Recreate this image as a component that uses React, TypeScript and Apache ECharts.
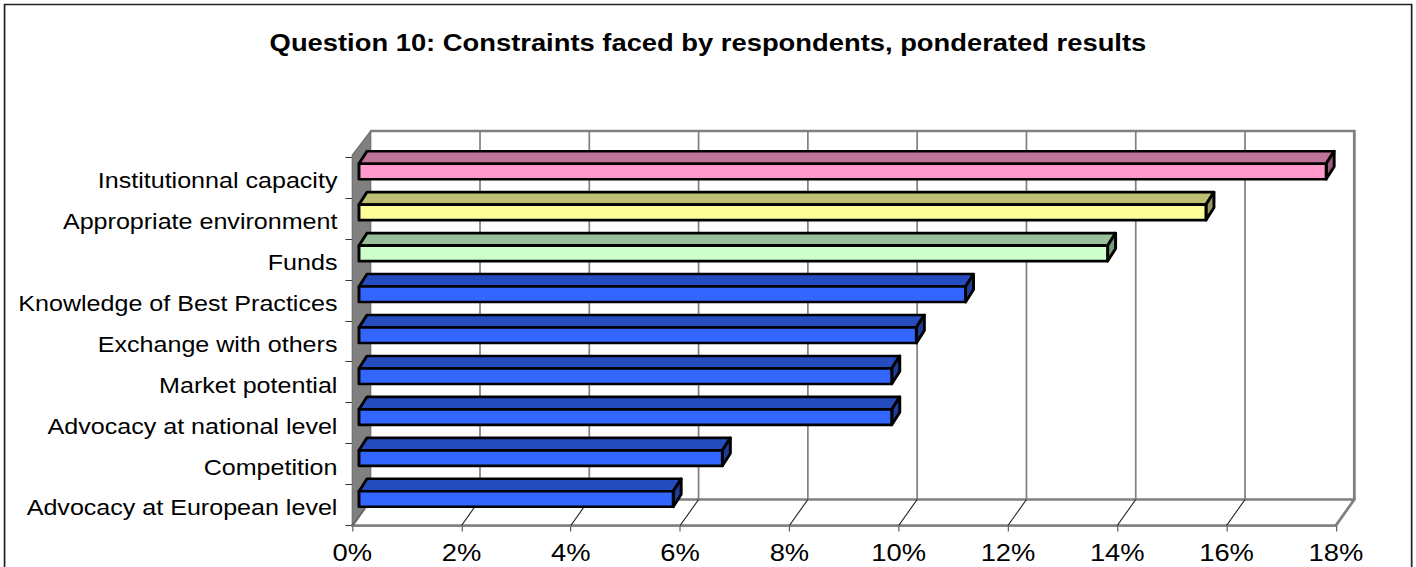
import React, { useEffect, useRef } from "react";
import * as echarts from "echarts";

// Survey categories, top to bottom
const categories = [
  "Institutionnal capacity",
  "Appropriate environment",
  "Funds",
  "Knowledge of Best Practices",
  "Exchange with others",
  "Market potential",
  "Advocacy at national level",
  "Competition",
  "Advocacy at European level",
];

// Ponderated share of answers, in percent
const values = [17.7, 15.5, 13.7, 11.1, 10.2, 9.75, 9.75, 6.65, 5.75];

// Front face colour of each bar
const barColors = [
  "#FF99CC",
  "#FFFF99",
  "#CCFFCC",
  "#3366FF",
  "#3366FF",
  "#3366FF",
  "#3366FF",
  "#3366FF",
  "#3366FF",
];

// Percentage ticks of the value axis
const xTicks = [0, 2, 4, 6, 8, 10, 12, 14, 16, 18];

const TITLE = "Question 10: Constraints faced by respondents, ponderated results";

// Horizontal stretch of the whole drawing
const STRETCH = 1.14;
const WIDTH = 1242;
const HEIGHT = 567;

// Depth of the 3-D box (back wall offset from the front plane)
const WALL_DX = 16.2;
const WALL_DY = -26;
// Bar placement inside the box
const BAR_FX = 5.9;
const BAR_FY = -6;
const BAR_H = 15.5;
const BAR_DX = 7;
const BAR_DY = -12.5;

const FONT = "'Liberation Sans', Arial, sans-serif";

function shade(hex: string, k: number): string {
  const n = parseInt(hex.slice(1), 16);
  const r = Math.round(((n >> 16) & 255) * k);
  const g = Math.round(((n >> 8) & 255) * k);
  const b = Math.round((n & 255) * k);
  return "rgb(" + r + "," + g + "," + b + ")";
}

export default function App() {
  const ref = useRef<HTMLDivElement>(null);

  useEffect(() => {
    if (!ref.current) return;
    const chart = echarts.init(ref.current, undefined, { renderer: "svg" });

    // Walls, floor and gridlines of the 3-D box
    const renderFrame = (params: any, api: any) => {
      const cs = params.coordSys;
      const top = cs.y;
      const bottom = cs.y + cs.height;
      const xs = xTicks.map((t) => api.coord([t, 0])[0]);
      const x0 = xs[0];
      const xN = xs[xs.length - 1];
      const children: any[] = [];

      // back wall
      children.push({
        type: "rect",
        shape: { x: x0 + WALL_DX, y: top + WALL_DY, width: xN - x0, height: bottom - top },
        style: { fill: "#ffffff", stroke: "none" },
      });
      // back wall gridlines
      xs.slice(1, -1).forEach((x) => {
        children.push({
          type: "line",
          shape: { x1: x + WALL_DX, y1: top + WALL_DY, x2: x + WALL_DX, y2: bottom + WALL_DY },
          style: { stroke: "#808080", lineWidth: 1.5 },
        });
      });
      // top and right border of the back wall
      children.push({
        type: "polyline",
        shape: {
          points: [
            [x0 + WALL_DX, top + WALL_DY],
            [xN + WALL_DX, top + WALL_DY],
            [xN + WALL_DX, bottom + WALL_DY],
          ],
        },
        style: { fill: "none", stroke: "#808080", lineWidth: 2.5 },
      });
      // floor
      children.push({
        type: "polygon",
        shape: {
          points: [
            [x0, bottom],
            [xN, bottom],
            [xN + WALL_DX, bottom + WALL_DY],
            [x0 + WALL_DX, bottom + WALL_DY],
          ],
        },
        style: { fill: "#ffffff", stroke: "#808080", lineWidth: 2.5, lineJoin: "round" },
      });
      // floor diagonals under each tick
      xs.slice(0, -1).forEach((x) => {
        children.push({
          type: "line",
          shape: { x1: x, y1: bottom, x2: x + WALL_DX, y2: bottom + WALL_DY },
          style: { stroke: "#222222", lineWidth: 1 },
        });
      });
      // left wall
      children.push({
        type: "polygon",
        shape: {
          points: [
            [x0, top - 2],
            [x0 + WALL_DX, top + WALL_DY],
            [x0 + WALL_DX, bottom + WALL_DY],
            [x0, bottom],
          ],
        },
        style: { fill: "#808080", stroke: "#6a6a6a", lineWidth: 1 },
      });
      return { type: "group", children };
    };

    // One shaded 3-D bar per category
    const renderBar = (params: any, api: any) => {
      const v = api.value(0);
      const cat = api.value(1);
      const p0 = api.coord([0, cat]);
      const p1 = api.coord([v, cat]);
      const color = barColors[params.dataIndex];
      const xa = p0[0] + BAR_FX;
      const xb = p1[0] + BAR_FX;
      const yT = p0[1] + BAR_FY - BAR_H / 2;
      const yB = yT + BAR_H;
      const edge = { stroke: "#000000", lineWidth: 2.6, lineJoin: "round" };
      return {
        type: "group",
        children: [
          {
            type: "polygon",
            shape: {
              points: [
                [xa, yT],
                [xb, yT],
                [xb + BAR_DX, yT + BAR_DY],
                [xa + BAR_DX, yT + BAR_DY],
              ],
            },
            style: { fill: shade(color, 0.75), ...edge },
          },
          {
            type: "polygon",
            shape: {
              points: [
                [xb, yT],
                [xb + BAR_DX, yT + BAR_DY],
                [xb + BAR_DX, yB + BAR_DY],
                [xb, yB],
              ],
            },
            style: { fill: shade(color, 0.6), ...edge },
          },
          {
            type: "rect",
            shape: { x: xa, y: yT, width: xb - xa, height: BAR_H },
            style: { fill: color, ...edge },
          },
        ],
      };
    };

    chart.setOption({
      animation: false,
      backgroundColor: "#ffffff",
      title: {
        text: TITLE,
        left: "center",
        top: 26,
        textStyle: { fontFamily: FONT, fontSize: 24, fontWeight: "bold", color: "#000000" },
      },
      grid: { left: 309, right: 70.2, top: 157, bottom: 41.5, containLabel: false },
      xAxis: {
        type: "value",
        min: 0,
        max: 18,
        interval: 2,
        axisLine: { show: true, lineStyle: { color: "#808080", width: 2.5 } },
        axisTick: { show: true, length: 6, lineStyle: { color: "#555555", width: 1 } },
        splitLine: { show: false },
        axisLabel: {
          formatter: "{value}%",
          fontFamily: FONT,
          fontSize: 24,
          color: "#000000",
          margin: 15,
        },
      },
      yAxis: {
        type: "category",
        data: categories,
        inverse: true,
        axisLine: { show: false },
        axisTick: { show: true, length: 6, lineStyle: { color: "#333333", width: 1 } },
        axisLabel: {
          margin: 13,
          formatter: "{c|{value}}",
          rich: {
            c: {
              fontFamily: FONT,
              fontSize: 22,
              color: "#000000",
              padding: [6, 0, 0, 0],
            },
          },
        },
      },
      graphic: [
        {
          type: "polyline",
          shape: { points: [[4, 600], [4, 4.5], [1238.3, 4.5], [1238.3, 600]] },
          style: { fill: "none", stroke: "#222222", lineWidth: 1.5 },
          z: 10,
        },
      ],
      series: [
        {
          type: "custom",
          renderItem: renderFrame,
          data: [[0, 0]],
          encode: { x: 0, y: 1 },
          z: 1,
          silent: true,
        },
        {
          type: "custom",
          renderItem: renderBar,
          data: values.map((v, i) => [v, i]),
          encode: { x: 0, y: 1 },
          z: 3,
        },
      ],
    });

    return () => chart.dispose();
  }, []);

  return (
    <div
      ref={ref}
      style={{
        position: "absolute",
        left: 0,
        top: 0,
        width: WIDTH,
        height: HEIGHT,
        transform: `scaleX(${STRETCH})`,
        transformOrigin: "0 0",
      }}
    />
  );
}
